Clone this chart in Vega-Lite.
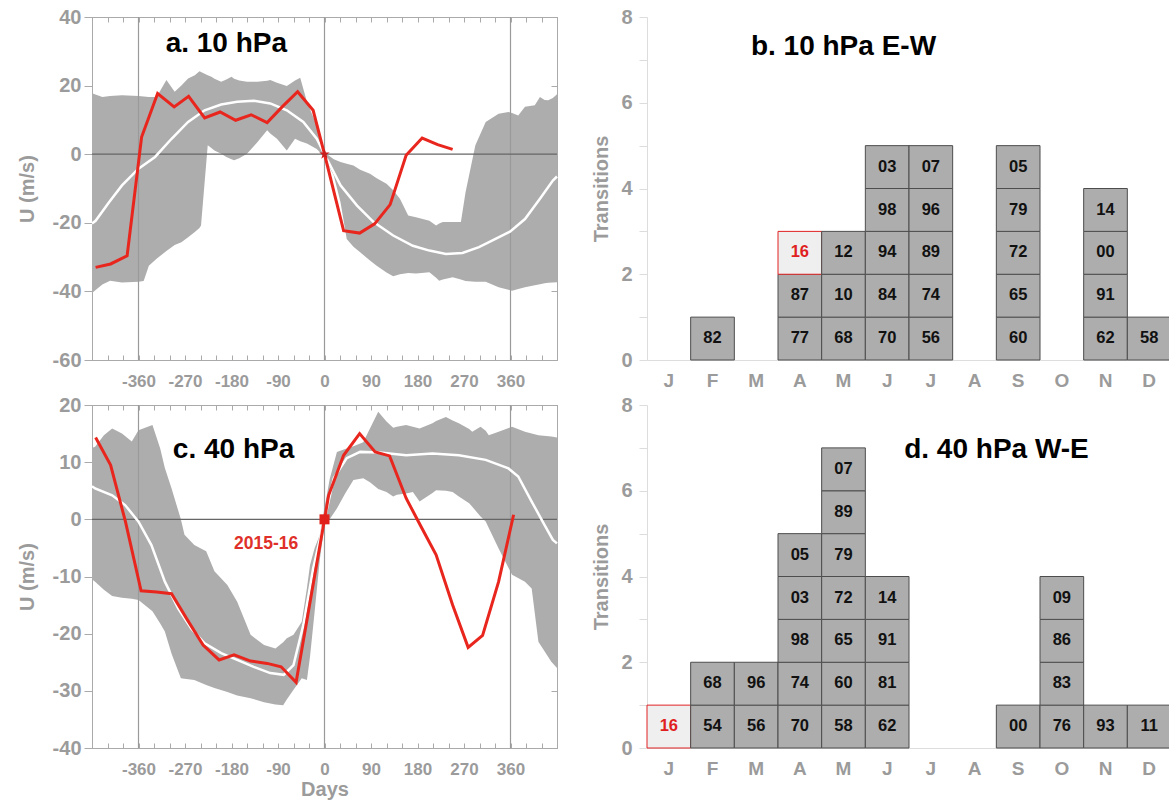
{
  "$schema": "https://vega.github.io/schema/vega-lite/v6.json",
  "padding": {"left": 16, "top": 6, "right": 0, "bottom": 0},
  "background": "white",
  "config": {
    "font": "Liberation Sans",
    "axis": {
      "labelFont": "Liberation Sans", "labelFontWeight": "bold", "labelColor": "#9b9b9b", "labelFontSize": 19,
      "titleFont": "Liberation Sans", "titleFontWeight": "bold", "titleColor": "#9b9b9b", "titleFontSize": 20,
      "domainColor": "#aaaaaa", "tickColor": "#aaaaaa", "grid": false
    }
  },
  "datasets": {
    "bandA": [
      {"day":-450,"lo":-40.5,"hi":17.8},{"day":-430,"lo":-38.0,"hi":16.7},{"day":-415,"lo":-36.9,"hi":17.0},{"day":-392,"lo":-37.4,"hi":17.2},{"day":-360,"lo":-37.2,"hi":17.0},{"day":-350,"lo":-37.0,"hi":16.8},{"day":-340,"lo":-32.5,"hi":16.7},{"day":-325,"lo":-30.5,"hi":16.7},{"day":-306,"lo":-28.2,"hi":21.6},{"day":-290,"lo":-26.5,"hi":18.2},{"day":-277,"lo":-25.7,"hi":20.0},{"day":-264,"lo":-24.2,"hi":22.1},{"day":-251,"lo":-22.7,"hi":23.0},{"day":-242,"lo":-21.5,"hi":24.2},{"day":-239,"lo":-20.8,"hi":24.0},{"day":-226,"lo":2.6,"hi":23.0},{"day":-219,"lo":1.8,"hi":22.6},{"day":-213,"lo":1.1,"hi":22.0},{"day":-200,"lo":0.1,"hi":21.1},{"day":-190,"lo":-0.8,"hi":21.8},{"day":-180,"lo":-1.5,"hi":22.6},{"day":-175,"lo":-1.8,"hi":22.0},{"day":-165,"lo":-1.2,"hi":21.5},{"day":-150,"lo":0.1,"hi":21.1},{"day":-130,"lo":3.5,"hi":21.1},{"day":-111,"lo":7.0,"hi":21.4},{"day":-105,"lo":6.0,"hi":21.6},{"day":-92,"lo":4.5,"hi":20.8},{"day":-73,"lo":1.1,"hi":19.9},{"day":-57,"lo":4.5,"hi":21.5},{"day":-47,"lo":3.8,"hi":22.3},{"day":-34,"lo":3.1,"hi":15.3},{"day":-15,"lo":1.5,"hi":8.4},{"day":-9,"lo":0.6,"hi":5.5},{"day":0,"lo":-1.0,"hi":0.5},{"day":18,"lo":-6.2,"hi":-1.5},{"day":31,"lo":-14.0,"hi":-2.3},{"day":43,"lo":-24.7,"hi":-2.8},{"day":56,"lo":-27.0,"hi":-3.3},{"day":69,"lo":-28.6,"hi":-4.5},{"day":88,"lo":-31.0,"hi":-5.7},{"day":101,"lo":-32.5,"hi":-7.0},{"day":120,"lo":-34.5,"hi":-8.6},{"day":133,"lo":-35.6,"hi":-10.5},{"day":146,"lo":-35.0,"hi":-13.0},{"day":162,"lo":-34.6,"hi":-17.9},{"day":177,"lo":-34.8,"hi":-18.4},{"day":203,"lo":-34.4,"hi":-19.4},{"day":216,"lo":-36.0,"hi":-20.8},{"day":222,"lo":-36.9,"hi":-20.2},{"day":229,"lo":-36.5,"hi":-19.8},{"day":248,"lo":-35.9,"hi":-19.8},{"day":264,"lo":-36.5,"hi":-19.8},{"day":273,"lo":-37.0,"hi":-11.1},{"day":292,"lo":-37.2,"hi":2.6},{"day":312,"lo":-37.2,"hi":9.4},{"day":337,"lo":-38.8,"hi":11.8},{"day":356,"lo":-39.5,"hi":12.3},{"day":363,"lo":-39.8,"hi":12.0},{"day":375,"lo":-39.3,"hi":11.3},{"day":388,"lo":-38.8,"hi":13.8},{"day":407,"lo":-38.2,"hi":14.3},{"day":417,"lo":-37.9,"hi":16.7},{"day":426,"lo":-37.6,"hi":15.8},{"day":433,"lo":-37.5,"hi":15.7},{"day":442,"lo":-37.4,"hi":16.4},{"day":450,"lo":-37.3,"hi":17.5}
    ],
    "meanA": [
      {"day":-450,"u":-20.2},{"day":-443,"u":-19.4},{"day":-417,"u":-14.0},{"day":-392,"u":-9.1},{"day":-360,"u":-4.2},{"day":-328,"u":-0.8},{"day":-296,"u":4.5},{"day":-264,"u":9.4},{"day":-232,"u":12.8},{"day":-200,"u":14.5},{"day":-169,"u":15.3},{"day":-137,"u":15.6},{"day":-105,"u":14.8},{"day":-73,"u":12.8},{"day":-41,"u":9.4},{"day":-15,"u":4.5},{"day":0,"u":0},{"day":31,"u":-9.1},{"day":63,"u":-15.0},{"day":95,"u":-19.8},{"day":133,"u":-23.7},{"day":171,"u":-26.7},{"day":203,"u":-28.1},{"day":235,"u":-29.1},{"day":267,"u":-28.8},{"day":299,"u":-27.1},{"day":331,"u":-24.7},{"day":359,"u":-22.6},{"day":388,"u":-18.9},{"day":417,"u":-13.0},{"day":442,"u":-7.7},{"day":450,"u":-6.5}
    ],
    "redA": [
      {"day":-443,"u":-33.0},{"day":-414,"u":-32.0},{"day":-382,"u":-29.6},{"day":-354,"u":5.0},{"day":-323,"u":17.7},{"day":-291,"u":13.8},{"day":-263,"u":16.9},{"day":-232,"u":10.6},{"day":-202,"u":12.3},{"day":-172,"u":9.9},{"day":-142,"u":11.5},{"day":-111,"u":9.2},{"day":-82,"u":13.8},{"day":-52,"u":18.2},{"day":-22,"u":12.8},{"day":0,"u":0},{"day":37,"u":-22.3},{"day":68,"u":-23.0},{"day":97,"u":-20.3},{"day":127,"u":-14.7},{"day":158,"u":-0.3},{"day":189,"u":4.7},{"day":219,"u":2.8},{"day":248,"u":1.4}
    ],
    "bandC": [
      {"day":-450,"lo":-10.5,"hi":12.5},{"day":-444,"lo":-10.9,"hi":12.7},{"day":-427,"lo":-12.3,"hi":14.7},{"day":-411,"lo":-13.4,"hi":15.9},{"day":-392,"lo":-13.7,"hi":15.0},{"day":-373,"lo":-13.9,"hi":13.6},{"day":-360,"lo":-14.1,"hi":15.6},{"day":-333,"lo":-16.1,"hi":16.5},{"day":-318,"lo":-18.2,"hi":12.4},{"day":-309,"lo":-19.6,"hi":9.0},{"day":-296,"lo":-23.5,"hi":5.4},{"day":-278,"lo":-27.8,"hi":0.0},{"day":-271,"lo":-27.9,"hi":-2.7},{"day":-252,"lo":-28.1,"hi":-4.5},{"day":-229,"lo":-29.0,"hi":-5.6},{"day":-213,"lo":-29.5,"hi":-9.1},{"day":-188,"lo":-30.2,"hi":-11.5},{"day":-169,"lo":-30.8,"hi":-14.4},{"day":-143,"lo":-31.3,"hi":-20.2},{"day":-117,"lo":-32.0,"hi":-22.0},{"day":-95,"lo":-32.4,"hi":-22.6},{"day":-80,"lo":-32.5,"hi":-21.5},{"day":-73,"lo":-31.5,"hi":-20.8},{"day":-60,"lo":-29.8,"hi":-20.2},{"day":-44,"lo":-27.8,"hi":-17.9},{"day":-34,"lo":-28.1,"hi":-12.0},{"day":-28,"lo":-24.0,"hi":-8.0},{"day":-19,"lo":-16.1,"hi":-5.0},{"day":-9,"lo":-7.0,"hi":-2.7},{"day":0,"lo":-1.0,"hi":2.0},{"day":10,"lo":0.0,"hi":7.0},{"day":24,"lo":1.9,"hi":11.8},{"day":40,"lo":4.5,"hi":12.3},{"day":56,"lo":6.9,"hi":12.8},{"day":75,"lo":7.2,"hi":13.5},{"day":88,"lo":6.5,"hi":15.9},{"day":104,"lo":5.3,"hi":18.8},{"day":120,"lo":4.8,"hi":17.1},{"day":133,"lo":4.0,"hi":16.0},{"day":140,"lo":4.3,"hi":16.2},{"day":158,"lo":4.5,"hi":16.5},{"day":171,"lo":4.8,"hi":16.2},{"day":184,"lo":3.1,"hi":15.9},{"day":209,"lo":4.6,"hi":16.8},{"day":216,"lo":5.1,"hi":17.2},{"day":235,"lo":5.0,"hi":17.9},{"day":248,"lo":4.8,"hi":17.3},{"day":260,"lo":4.0,"hi":16.8},{"day":280,"lo":2.8,"hi":15.8},{"day":286,"lo":2.2,"hi":15.3},{"day":302,"lo":0.5,"hi":16.2},{"day":312,"lo":-0.4,"hi":15.5},{"day":318,"lo":-1.5,"hi":14.7},{"day":337,"lo":-5.1,"hi":15.3},{"day":363,"lo":-9.7,"hi":16.2},{"day":388,"lo":-10.9,"hi":15.3},{"day":401,"lo":-12.1,"hi":15.0},{"day":414,"lo":-21.4,"hi":14.7},{"day":439,"lo":-24.9,"hi":14.5},{"day":450,"lo":-26.0,"hi":14.3}
    ],
    "meanC": [
      {"day":-450,"u":5.8},{"day":-444,"u":5.4},{"day":-411,"u":4.2},{"day":-386,"u":2.5},{"day":-360,"u":-0.4},{"day":-335,"u":-4.5},{"day":-309,"u":-10.9},{"day":-283,"u":-15.6},{"day":-258,"u":-19.1},{"day":-232,"u":-21.7},{"day":-200,"u":-23.4},{"day":-169,"u":-24.6},{"day":-137,"u":-25.8},{"day":-105,"u":-26.9},{"day":-79,"u":-27.2},{"day":-60,"u":-25.5},{"day":-41,"u":-18.5},{"day":-22,"u":-8.6},{"day":0,"u":0},{"day":18,"u":7.2},{"day":43,"u":10.7},{"day":69,"u":11.8},{"day":107,"u":11.7},{"day":158,"u":11.2},{"day":209,"u":11.5},{"day":260,"u":11.2},{"day":312,"u":10.4},{"day":356,"u":8.9},{"day":375,"u":7.5},{"day":401,"u":3.1},{"day":426,"u":-1.0},{"day":442,"u":-3.6},{"day":450,"u":-4.2}
    ],
    "redC": [
      {"day":-443,"u":14.3},{"day":-414,"u":9.5},{"day":-385,"u":-0.5},{"day":-355,"u":-12.5},{"day":-325,"u":-12.7},{"day":-296,"u":-13.0},{"day":-266,"u":-17.5},{"day":-235,"u":-22.0},{"day":-204,"u":-24.6},{"day":-175,"u":-23.7},{"day":-143,"u":-24.8},{"day":-111,"u":-25.2},{"day":-84,"u":-25.8},{"day":-55,"u":-28.5},{"day":0,"u":0},{"day":8,"u":4.2},{"day":37,"u":11.2},{"day":68,"u":15.0},{"day":98,"u":11.8},{"day":126,"u":11.1},{"day":158,"u":3.7},{"day":187,"u":-1.3},{"day":216,"u":-6.2},{"day":248,"u":-15.0},{"day":278,"u":-22.4},{"day":306,"u":-20.3},{"day":337,"u":-10.9},{"day":366,"u":0.8}
    ],
    "vlines": [{"day": -360}, {"day": 0}, {"day": 360}],
    "zero": [{"u": 0}],
    "transB": [
      {"m":"Feb","yr":"82","rank":1,"hl":0},
      {"m":"Apr","yr":"77","rank":1,"hl":0},{"m":"Apr","yr":"87","rank":2,"hl":0},{"m":"Apr","yr":"16","rank":3,"hl":1},
      {"m":"May","yr":"68","rank":1,"hl":0},{"m":"May","yr":"10","rank":2,"hl":0},{"m":"May","yr":"12","rank":3,"hl":0},
      {"m":"Jun","yr":"70","rank":1,"hl":0},{"m":"Jun","yr":"84","rank":2,"hl":0},{"m":"Jun","yr":"94","rank":3,"hl":0},{"m":"Jun","yr":"98","rank":4,"hl":0},{"m":"Jun","yr":"03","rank":5,"hl":0},
      {"m":"Jul","yr":"56","rank":1,"hl":0},{"m":"Jul","yr":"74","rank":2,"hl":0},{"m":"Jul","yr":"89","rank":3,"hl":0},{"m":"Jul","yr":"96","rank":4,"hl":0},{"m":"Jul","yr":"07","rank":5,"hl":0},
      {"m":"Sep","yr":"60","rank":1,"hl":0},{"m":"Sep","yr":"65","rank":2,"hl":0},{"m":"Sep","yr":"72","rank":3,"hl":0},{"m":"Sep","yr":"79","rank":4,"hl":0},{"m":"Sep","yr":"05","rank":5,"hl":0},
      {"m":"Nov","yr":"62","rank":1,"hl":0},{"m":"Nov","yr":"91","rank":2,"hl":0},{"m":"Nov","yr":"00","rank":3,"hl":0},{"m":"Nov","yr":"14","rank":4,"hl":0},
      {"m":"Dec","yr":"58","rank":1,"hl":0}
    ],
    "transD": [
      {"m":"Jan","yr":"16","rank":1,"hl":1},
      {"m":"Feb","yr":"54","rank":1,"hl":0},{"m":"Feb","yr":"68","rank":2,"hl":0},
      {"m":"Mar","yr":"56","rank":1,"hl":0},{"m":"Mar","yr":"96","rank":2,"hl":0},
      {"m":"Apr","yr":"70","rank":1,"hl":0},{"m":"Apr","yr":"74","rank":2,"hl":0},{"m":"Apr","yr":"98","rank":3,"hl":0},{"m":"Apr","yr":"03","rank":4,"hl":0},{"m":"Apr","yr":"05","rank":5,"hl":0},
      {"m":"May","yr":"58","rank":1,"hl":0},{"m":"May","yr":"60","rank":2,"hl":0},{"m":"May","yr":"65","rank":3,"hl":0},{"m":"May","yr":"72","rank":4,"hl":0},{"m":"May","yr":"79","rank":5,"hl":0},{"m":"May","yr":"89","rank":6,"hl":0},{"m":"May","yr":"07","rank":7,"hl":0},
      {"m":"Jun","yr":"62","rank":1,"hl":0},{"m":"Jun","yr":"81","rank":2,"hl":0},{"m":"Jun","yr":"91","rank":3,"hl":0},{"m":"Jun","yr":"14","rank":4,"hl":0},
      {"m":"Sep","yr":"00","rank":1,"hl":0},
      {"m":"Oct","yr":"76","rank":1,"hl":0},{"m":"Oct","yr":"83","rank":2,"hl":0},{"m":"Oct","yr":"86","rank":3,"hl":0},{"m":"Oct","yr":"09","rank":4,"hl":0},
      {"m":"Nov","yr":"93","rank":1,"hl":0},
      {"m":"Dec","yr":"11","rank":1,"hl":0}
    ]
  },
  "vconcat": [
    {
      "hconcat": [
        {
          "width": 465, "height": 343,
          "view": {"stroke": "#aaaaaa"},
          "resolve": {"axis": {"x": "independent", "y": "independent"}},
          "layer": [
            {
              "data": {"name": "bandA"},
              "mark": {"type": "area", "color": "#adadad"},
              "encoding": {
                "x": {"field": "day", "type": "quantitative", "scale": {"domain": [-450, 450], "nice": false, "zero": false},
                  "axis": {"orient": "bottom", "values": [-450,-420,-390,-360,-330,-300,-270,-240,-210,-180,-150,-120,-90,-60,-30,0,30,60,90,120,150,180,210,240,270,300,330,360,390,420,450],
                    "labelExpr": "(datum.value % 90 == 0 && abs(datum.value) <= 360) ? ('' + datum.value) : ''", "labelOverlap": false, "labelFlush": false,
                    "labelFontSize": 17, "tickSize": -5, "labelPadding": 18, "title": null}},
                "y": {"field": "lo", "type": "quantitative", "scale": {"domain": [-60, 40], "nice": false},
                  "axis": {"orient": "left", "values": [-60,-40,-20,0,20,40], "labelExpr": "'' + datum.value", "labelFontSize": 20, "tickSize": 8, "labelPadding": 3, "title": "U (m/s)", "titlePadding": 15}},
                "y2": {"field": "hi"}
              }
            },
            {
              "data": {"name": "vlines"},
              "mark": {"type": "rule", "color": "#9a9a9a", "strokeWidth": 1.2},
              "encoding": {"x": {"field": "day", "type": "quantitative", "axis": null}}
            },
            {
              "data": {"name": "zero"},
              "mark": {"type": "rule", "color": "#666666", "strokeWidth": 1.2},
              "encoding": {"y": {"field": "u", "type": "quantitative", "axis": null}}
            },
            {
              "data": {"name": "meanA"},
              "mark": {"type": "line", "color": "white", "strokeWidth": 2.5},
              "encoding": {
                "x": {"field": "day", "type": "quantitative",
                  "axis": {"orient": "top", "values": [-450,-420,-390,-360,-330,-300,-270,-240,-210,-180,-150,-120,-90,-60,-30,0,30,60,90,120,150,180,210,240,270,300,330,360,390,420,450], "labels": false, "tickSize": -5, "title": null}},
                "y": {"field": "u", "type": "quantitative",
                  "axis": {"orient": "right", "values": [-60,-40,-20,0,20,40], "labels": false, "tickSize": -6, "title": null}}
              }
            },
            {
              "data": {"name": "redA"},
              "mark": {"type": "line", "color": "#e8261e", "strokeWidth": 3},
              "encoding": {
                "x": {"field": "day", "type": "quantitative", "axis": null},
                "y": {"field": "u", "type": "quantitative", "axis": null}
              }
            },
            {
              "data": {"values": [{"day": 0, "u": 0}]},
              "mark": {"type": "point", "shape": "M0,-1L0.2245,-0.309L0.951,-0.309L0.363,0.118L0.588,0.809L0,0.382L-0.588,0.809L-0.363,0.118L-0.951,-0.309L-0.2245,-0.309Z", "filled": true, "color": "#c81e1e", "size": 120, "opacity": 1},
              "encoding": {
                "x": {"field": "day", "type": "quantitative", "axis": null},
                "y": {"field": "u", "type": "quantitative", "axis": null}
              }
            },
            {
              "data": {"values": [{"label": "a. 10 hPa", "day": -190, "u": 32}]},
              "mark": {"type": "text", "fontSize": 28, "fontWeight": "bold", "color": "black", "align": "center", "baseline": "middle"},
              "encoding": {
                "x": {"field": "day", "type": "quantitative", "axis": null},
                "y": {"field": "u", "type": "quantitative", "axis": null},
                "text": {"field": "label"}
              }
            }
          ]
        },
        {
          "width": 524, "height": 343,
          "view": {"stroke": null},
          "data": {"name": "transB"},
          "layer": [
            {
              "mark": {"type": "bar", "strokeWidth": 1},
              "encoding": {
                "x": {"field": "m", "type": "ordinal", "scale": {"domain": ["Jan","Feb","Mar","Apr","May","Jun","Jul","Aug","Sep","Oct","Nov","Dec"], "paddingInner": 0, "paddingOuter": 0},
                  "axis": {"labelExpr": "substring(datum.label, 0, 1)", "labelAngle": 0, "ticks": false, "labelPadding": 11, "domainColor": "#dddddd", "title": null}},
                "y": {"aggregate": "count", "type": "quantitative", "stack": "zero", "scale": {"domain": [0, 8], "nice": false},
                  "axis": {"values": [0,1,2,3,4,5,6,7,8], "labelExpr": "datum.value % 2 == 0 ? '' + datum.value : ''", "labelFontSize": 20, "tickSize": 8, "tickColor": "#dddddd", "domainColor": "#dddddd", "labelPadding": 7, "title": "Transitions", "titlePadding": 9}},
                "detail": [{"field": "yr"}, {"field": "hl"}],
                "order": {"field": "rank", "type": "quantitative"},
                "fill": {"condition": {"test": "datum.hl == 1", "value": "#efefef"}, "value": "#adadad"},
                "stroke": {"condition": {"test": "datum.hl == 1", "value": "#e02020"}, "value": "#4d4d4d"}
              }
            },
            {
              "mark": {"type": "text", "fontSize": 16.5, "fontWeight": "bold", "baseline": "middle", "align": "center", "dy": 21},
              "encoding": {
                "x": {"field": "m", "type": "ordinal"},
                "y": {"aggregate": "count", "type": "quantitative", "stack": "zero"},
                "detail": [{"field": "yr"}, {"field": "hl"}],
                "order": {"field": "rank", "type": "quantitative"},
                "text": {"field": "yr"},
                "color": {"condition": {"test": "datum.hl == 1", "value": "#e02020"}, "value": "#111111"}
              }
            },
            {
              "data": {"values": [{"label": "b. 10 hPa E-W", "m": "May", "n": 7.3}]},
              "mark": {"type": "text", "fontSize": 28, "fontWeight": "bold", "color": "black", "align": "center", "baseline": "middle"},
              "encoding": {
                "x": {"field": "m", "type": "ordinal"},
                "y": {"field": "n", "type": "quantitative"},
                "text": {"field": "label"}
              }
            }
          ]
        }
      ],
      "spacing": 28
    },
    {
      "hconcat": [
        {
          "width": 465, "height": 343,
          "view": {"stroke": "#aaaaaa"},
          "resolve": {"axis": {"x": "independent", "y": "independent"}},
          "layer": [
            {
              "data": {"name": "bandC"},
              "mark": {"type": "area", "color": "#adadad"},
              "encoding": {
                "x": {"field": "day", "type": "quantitative", "scale": {"domain": [-450, 450], "nice": false, "zero": false},
                  "axis": {"orient": "bottom", "values": [-450,-420,-390,-360,-330,-300,-270,-240,-210,-180,-150,-120,-90,-60,-30,0,30,60,90,120,150,180,210,240,270,300,330,360,390,420,450],
                    "labelExpr": "(datum.value % 90 == 0 && abs(datum.value) <= 360) ? ('' + datum.value) : ''", "labelOverlap": false, "labelFlush": false,
                    "labelFontSize": 17, "tickSize": -5, "labelPadding": 18, "title": "Days", "titlePadding": 2}},
                "y": {"field": "lo", "type": "quantitative", "scale": {"domain": [-40, 20], "nice": false},
                  "axis": {"orient": "left", "values": [-40,-30,-20,-10,0,10,20], "labelExpr": "'' + datum.value", "labelFontSize": 20, "tickSize": 8, "labelPadding": 3, "title": "U (m/s)", "titlePadding": 15}},
                "y2": {"field": "hi"}
              }
            },
            {
              "data": {"name": "vlines"},
              "mark": {"type": "rule", "color": "#9a9a9a", "strokeWidth": 1.2},
              "encoding": {"x": {"field": "day", "type": "quantitative", "axis": null}}
            },
            {
              "data": {"name": "zero"},
              "mark": {"type": "rule", "color": "#666666", "strokeWidth": 1.2},
              "encoding": {"y": {"field": "u", "type": "quantitative", "axis": null}}
            },
            {
              "data": {"name": "meanC"},
              "mark": {"type": "line", "color": "white", "strokeWidth": 2.5},
              "encoding": {
                "x": {"field": "day", "type": "quantitative",
                  "axis": {"orient": "top", "values": [-450,-420,-390,-360,-330,-300,-270,-240,-210,-180,-150,-120,-90,-60,-30,0,30,60,90,120,150,180,210,240,270,300,330,360,390,420,450], "labels": false, "tickSize": -5, "title": null}},
                "y": {"field": "u", "type": "quantitative",
                  "axis": {"orient": "right", "values": [-40,-30,-20,-10,0,10,20], "labels": false, "tickSize": -6, "title": null}}
              }
            },
            {
              "data": {"name": "redC"},
              "mark": {"type": "line", "color": "#e8261e", "strokeWidth": 3},
              "encoding": {
                "x": {"field": "day", "type": "quantitative", "axis": null},
                "y": {"field": "u", "type": "quantitative", "axis": null}
              }
            },
            {
              "data": {"values": [{"day": 0, "u": 0}]},
              "mark": {"type": "point", "shape": "square", "filled": true, "color": "#e0201a", "size": 100, "opacity": 1},
              "encoding": {
                "x": {"field": "day", "type": "quantitative", "axis": null},
                "y": {"field": "u", "type": "quantitative", "axis": null}
              }
            },
            {
              "data": {"values": [{"label": "c. 40 hPa", "day": -176, "u": 12.1, "s": 28, "c": "black"}, {"label": "2015-16", "day": -113, "u": -4.4, "s": 17.5, "c": "#e0302a"}]},
              "mark": {"type": "text", "fontWeight": "bold", "align": "center", "baseline": "middle"},
              "encoding": {
                "x": {"field": "day", "type": "quantitative", "axis": null},
                "y": {"field": "u", "type": "quantitative", "axis": null},
                "text": {"field": "label"},
                "size": {"field": "s", "type": "quantitative", "scale": null},
                "color": {"field": "c", "type": "nominal", "scale": null}
              }
            }
          ]
        },
        {
          "width": 524, "height": 343,
          "view": {"stroke": null},
          "data": {"name": "transD"},
          "layer": [
            {
              "mark": {"type": "bar", "strokeWidth": 1},
              "encoding": {
                "x": {"field": "m", "type": "ordinal", "scale": {"domain": ["Jan","Feb","Mar","Apr","May","Jun","Jul","Aug","Sep","Oct","Nov","Dec"], "paddingInner": 0, "paddingOuter": 0},
                  "axis": {"labelExpr": "substring(datum.label, 0, 1)", "labelAngle": 0, "ticks": false, "labelPadding": 11, "domainColor": "#dddddd", "title": null}},
                "y": {"aggregate": "count", "type": "quantitative", "stack": "zero", "scale": {"domain": [0, 8], "nice": false},
                  "axis": {"values": [0,1,2,3,4,5,6,7,8], "labelExpr": "datum.value % 2 == 0 ? '' + datum.value : ''", "labelFontSize": 20, "tickSize": 8, "tickColor": "#dddddd", "domainColor": "#dddddd", "labelPadding": 7, "title": "Transitions", "titlePadding": 9}},
                "detail": [{"field": "yr"}, {"field": "hl"}],
                "order": {"field": "rank", "type": "quantitative"},
                "fill": {"condition": {"test": "datum.hl == 1", "value": "#efefef"}, "value": "#adadad"},
                "stroke": {"condition": {"test": "datum.hl == 1", "value": "#e02020"}, "value": "#4d4d4d"}
              }
            },
            {
              "mark": {"type": "text", "fontSize": 16.5, "fontWeight": "bold", "baseline": "middle", "align": "center", "dy": 21},
              "encoding": {
                "x": {"field": "m", "type": "ordinal"},
                "y": {"aggregate": "count", "type": "quantitative", "stack": "zero"},
                "detail": [{"field": "yr"}, {"field": "hl"}],
                "order": {"field": "rank", "type": "quantitative"},
                "text": {"field": "yr"},
                "color": {"condition": {"test": "datum.hl == 1", "value": "#e02020"}, "value": "#111111"}
              }
            },
            {
              "data": {"values": [{"label": "d. 40 hPa W-E", "m": "Aug", "n": 6.95}]},
              "mark": {"type": "text", "fontSize": 28, "fontWeight": "bold", "color": "black", "align": "center", "baseline": "middle", "dx": 22},
              "encoding": {
                "x": {"field": "m", "type": "ordinal"},
                "y": {"field": "n", "type": "quantitative"},
                "text": {"field": "label"}
              }
            }
          ]
        }
      ],
      "spacing": 28
    }
  ],
  "spacing": 4
}
